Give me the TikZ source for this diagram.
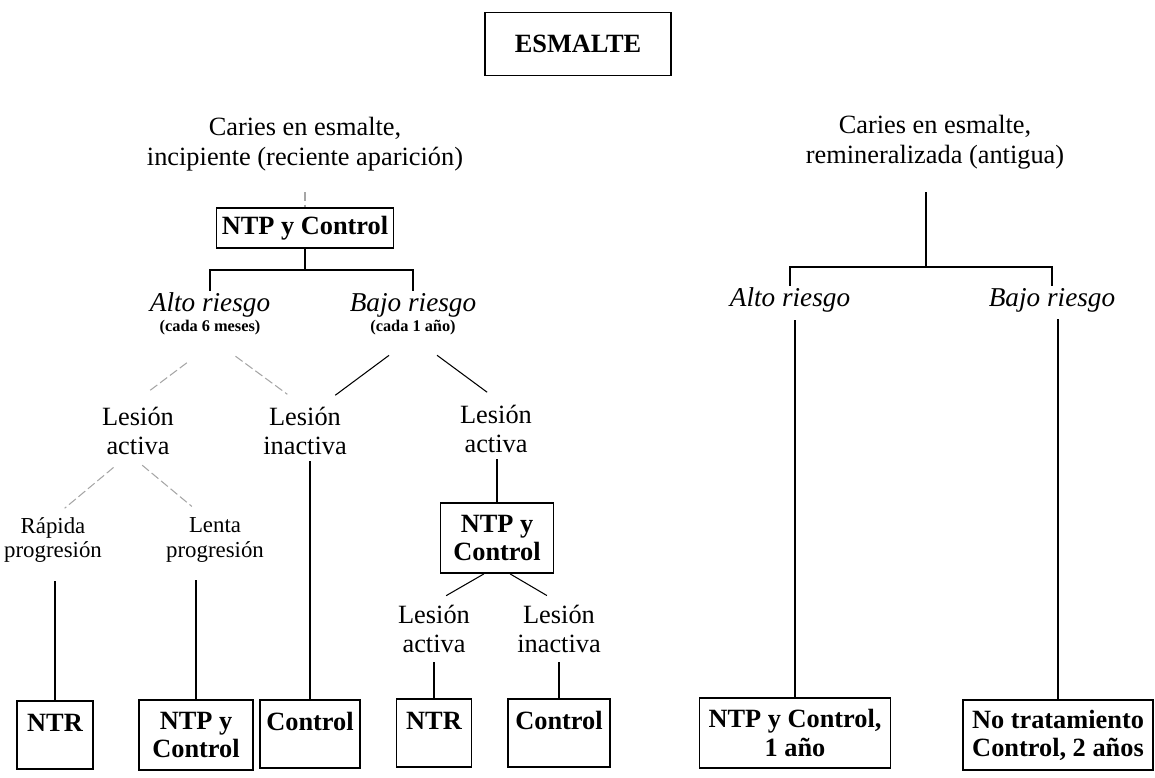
\documentclass[tikz,border=0pt]{standalone}
\usepackage{fontspec}
\setmainfont{Liberation Serif}

\tikzset{
  box/.style={draw, line width=1pt, font=\bfseries\fontsize{15}{16}\selectfont, align=center, inner sep=2pt},
  onel/.style={text height=15.5pt, text depth=19pt},
  txt/.style={font=\fontsize{15}{17}\selectfont, align=center, inner sep=1pt},
  riesgo/.style={font=\itshape\fontsize{15.5}{17}\selectfont, inner sep=1pt},
  cada/.style={font=\bfseries\fontsize{9.3}{10}\selectfont, inner sep=1pt},
  prog/.style={font=\fontsize{13}{14.2}\selectfont, align=center, inner sep=1pt},
  link/.style={line width=0.6pt},
  faint/.style={gray!70, line width=0.6pt, dash pattern=on 5pt off 2pt},
}

\begin{document}
\begin{tikzpicture}[x=0.02cm, y=-0.02cm]

\useasboundingbox (0,0) rectangle (1155,777);

\node[box, minimum width=3.72cm, minimum height=1.26cm] (esm) at (578,44) {ESMALTE};

% incipiente
\node[txt] (cariesA) at (305,144) {Caries en esmalte,\\incipiente (reciente aparición)};
\node[box, minimum width=3.54cm, minimum height=0.8cm] (ntpA) at (305,228) {NTP y Control};
\coordinate (busA) at (305,270);

\node[riesgo] (altoA) at (210,305) {Alto riesgo};
\node[cada] (cadaA) at (210,328) {(cada 6 meses)};
\node[riesgo] (bajoA) at (413,305) {Bajo riesgo};
\node[cada] (cadaB) at (413,328) {(cada 1 año)};

\node[txt] (lesA) at (138,431) {Lesión\\activa};
\node[txt] (lesB) at (305,431) {Lesión\\inactiva};
\node[txt] (lesC) at (496,429) {Lesión\\activa};

\node[prog] (rapida) at (53,540) {Rápida\\progresión};
\node[prog] (lenta) at (215,540) {Lenta\\progresión};
\node[box, minimum width=2.26cm, minimum height=1.4cm] (ntpC) at (497,538) {NTP y\\Control};

\node[txt] (lesD) at (434,629) {Lesión\\activa};
\node[txt] (lesE) at (559,629) {Lesión\\inactiva};

\node[box, onel, minimum width=1.52cm] (ntr1) at (55,735) {NTR};
\node[box, minimum width=2.28cm, minimum height=1.4cm] (ntpB) at (196,735) {NTP y\\Control};
\node[box, onel, minimum width=2.0cm] (ctr1) at (310,734) {Control};
\node[box, onel, minimum width=1.5cm] (ntr2) at (434,733) {NTR};
\node[box, onel, minimum width=2.04cm] (ctr2) at (559,733) {Control};

% remineralizada
\node[txt] (cariesB) at (935,142) {Caries en esmalte,\\remineralizada (antigua)};
\coordinate (busB) at (926,267);
\node[riesgo] (altoB) at (790,300) {Alto riesgo};
\node[riesgo] (bajoB) at (1052,300) {Bajo riesgo};
\node[box, minimum width=3.82cm, minimum height=1.4cm] (ntpD) at (795,733) {NTP y Control,\\1 año};
\node[box, minimum width=3.8cm, minimum height=1.4cm] (noT) at (1058,735) {No tratamiento\\Control, 2 años};

\draw[faint, shorten <=11pt] (cariesA.south) -- (ntpA.north);
\draw[link] (ntpA.south) -- (busA);
\draw[link] (altoA.north) |- (busA) -| (bajoA.north);

\draw[faint, shorten <=24pt, shorten >=12pt] ([xshift=6pt]cadaA.south) -- ([xshift=-4pt]lesA.north);
\draw[faint, shorten <=18pt, shorten >=10pt] (cadaA.south) -- ([xshift=-2pt]lesB.north);
\draw[link, shorten <=17pt, shorten >=9pt] (cadaB.south) -- ([xshift=10pt]lesB.north);
\draw[link, shorten <=17pt, shorten >=10pt] (cadaB.south) -- ([xshift=3pt]lesC.north);

\draw[faint, shorten <=9pt, shorten >=6pt] ([xshift=-7pt]lesA.south) -- ([xshift=2pt]rapida.north);
\draw[faint, shorten <=7pt, shorten >=8pt] ([xshift=-3pt]lesA.south) -- ([xshift=-7pt]lenta.north);

\draw[link] (ntr1.north) -- ([yshift=-9pt]ntr1.north |- rapida.south);
\draw[link] (ntpB.north) -- ([yshift=-9pt]ntpB.north |- lenta.south);
\draw[link] (ctr1.north) -- ([yshift=-2pt]ctr1.north |- lesB.south);
\draw[link] (ntpC.north) -- ([yshift=-2pt]ntpC.north |- lesC.south);
\draw[link, shorten >=8pt] (ntpC.250) -- (lesD.north);
\draw[link, shorten >=8pt] (ntpC.290) -- (lesE.north);
\draw[link, shorten <=4pt] (lesD.south) -- (ntr2.north);
\draw[link, shorten <=4pt] (lesE.south) -- (ctr2.north);

\draw[link, shorten <=12pt] (cariesB.south -| busB) -- (busB);
\draw[link] (altoB.north) |- (busB) -| (bajoB.north);
\draw[link] (ntpD.north) -- ([yshift=-3pt]ntpD.north |- altoB.south);
\draw[link] (noT.north) -- ([yshift=-3pt]noT.north |- bajoB.south);

\end{tikzpicture}
\end{document}
